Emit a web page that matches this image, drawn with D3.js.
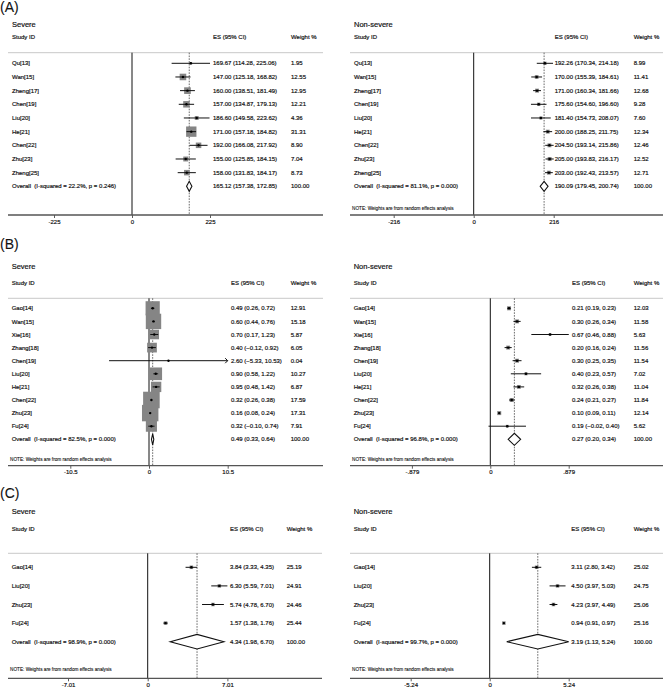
<!DOCTYPE html>
<html>
<head>
<meta charset="utf-8">
<script src="https://cdn.jsdelivr.net/npm/d3@7"></script>
<style>
  body { margin: 0; background: #fff; }
  svg text { font-family: "Liberation Sans", Arial, sans-serif; fill: #111; stroke: #111; stroke-width: 0.18px; white-space: pre; }
</style>
</head>
<body>
<svg id="chart" width="664" height="692"></svg>
<script>
// ---- data ----
var studiesA = ["Qu[13]", "Wan[15]", "Zheng[17]", "Chen[19]", "Liu[20]", "He[21]", "Chen[22]", "Zhu[23]", "Zheng[25]"];
var esA_sev = [169.67, 147.00, 160.00, 157.00, 186.60, 171.00, 192.00, 155.00, 158.00];
var loA_sev = [114.28, 125.18, 138.51, 134.87, 149.58, 157.18, 166.08, 125.85, 131.83];
var hiA_sev = [225.06, 168.82, 181.49, 179.13, 223.62, 184.82, 217.92, 184.15, 184.17];
var wtA_sev = [1.95, 12.55, 12.95, 12.21, 4.36, 31.31, 8.90, 7.04, 8.73];
var allA_sev = [165.12, 157.38, 172.85];
var hetA_sev = ["22.2%", "0.246"];
var ticksA_sev = [-225, 0, 225];

var esA_non = [192.26, 170.00, 171.00, 175.60, 181.40, 200.00, 204.50, 205.00, 203.00];
var loA_non = [170.34, 155.39, 160.34, 154.60, 154.73, 188.25, 193.14, 193.83, 192.43];
var hiA_non = [214.18, 184.61, 181.66, 196.60, 208.07, 211.75, 215.86, 216.17, 213.57];
var wtA_non = [8.99, 11.41, 12.68, 9.28, 7.60, 12.34, 12.46, 12.52, 12.71];
var allA_non = [190.09, 179.45, 200.74];
var hetA_non = ["81.1%", "0.000"];
var ticksA_non = [-216, 0, 216];

var studiesB = ["Gao[14]", "Wan[15]", "Xie[16]", "Zhang[18]", "Chen[19]", "Liu[20]", "He[21]", "Chen[22]", "Zhu[23]", "Fu[24]"];
var esB_sev = [0.49, 0.60, 0.70, 0.40, 2.60, 0.90, 0.95, 0.32, 0.16, 0.32];
var loB_sev = [0.26, 0.44, 0.17, -0.12, -5.33, 0.58, 0.48, 0.26, 0.08, -0.10];
var hiB_sev = [0.72, 0.76, 1.23, 0.92, 10.53, 1.22, 1.42, 0.38, 0.24, 0.74];
var wtB_sev = [12.91, 15.18, 5.87, 6.05, 0.04, 10.27, 6.87, 17.59, 17.31, 7.91];
var allB_sev = [0.49, 0.33, 0.64];
var hetB_sev = ["82.5%", "0.000"];
var ticksB_sev = [-10.5, 0, 10.5];

var esB_non = [0.21, 0.30, 0.67, 0.20, 0.30, 0.40, 0.32, 0.24, 0.10, 0.19];
var loB_non = [0.19, 0.26, 0.46, 0.16, 0.25, 0.23, 0.26, 0.21, 0.09, -0.02];
var hiB_non = [0.23, 0.34, 0.88, 0.24, 0.35, 0.57, 0.38, 0.27, 0.11, 0.40];
var wtB_non = [12.03, 11.58, 5.63, 11.56, 11.54, 7.02, 11.04, 11.84, 12.14, 5.62];
var allB_non = [0.27, 0.20, 0.34];
var hetB_non = ["96.8%", "0.000"];
var ticksB_non = [-0.879, 0, 0.879];
var tickLabB_non = ["-.879", "0", ".879"];

var studiesC = ["Gao[14]", "Liu[20]", "Zhu[23]", "Fu[24]"];
var esC_sev = [3.84, 6.30, 5.74, 1.57];
var loC_sev = [3.33, 5.59, 4.78, 1.38];
var hiC_sev = [4.35, 7.01, 6.70, 1.76];
var wtC_sev = [25.19, 24.91, 24.46, 25.44];
var allC_sev = [4.34, 1.98, 6.70];
var hetC_sev = ["98.9%", "0.000"];
var ticksC_sev = [-7.01, 0, 7.01];

var esC_non = [3.11, 4.50, 4.23, 0.94];
var loC_non = [2.80, 3.97, 3.97, 0.91];
var hiC_non = [3.42, 5.03, 4.49, 0.97];
var wtC_non = [25.02, 24.75, 25.06, 25.16];
var allC_non = [3.19, 1.13, 5.24];
var hetC_non = ["99.7%", "0.000"];
var ticksC_non = [-5.24, 0, 5.24];

var svg = d3.select("#chart");
var fmt = d3.format(".2f");

// panel letters
[["(A)", 7], ["(B)", 244], ["(C)", 493]].forEach(function(l) {
  svg.append("text").attr("x", 0).attr("y", l[1]).attr("dy", "0.35em")
    .style("font-size", "14px").style("stroke-width", "0.1px").text(l[0]);
});

function forest(p) {
  var g = svg.append("g");
  var x = d3.scaleLinear()
    .domain([p.ticks[0], p.ticks[p.ticks.length - 1]])
    .range([p.zero - p.span, p.zero + p.span]);
  var rowY = function(i) { return p.row0 + i * p.step; };
  var n = p.studies.length;
  // CIs are only cut (with an arrow) where the panel asks for it
  var cmax = p.clip ? p.clip : Infinity, cmin = p.clip ? -p.clip : -Infinity;

  // titles
  g.append("text").attr("x", p.tx).attr("y", p.titleY).attr("dy", "0.35em")
    .style("font-size", "7.5px").text(p.title);
  var hdr = [["Study ID", p.tx], ["ES (95% CI)", p.esX], ["Weight %", p.wX]];
  hdr.forEach(function(h) {
    g.append("text").attr("x", h[1]).attr("y", p.hdrY).attr("dy", "0.35em")
      .style("font-size", "6px").text(h[0]);
  });
  g.append("line").attr("x1", p.x0).attr("x2", p.x1).attr("y1", p.lineY).attr("y2", p.lineY)
    .attr("stroke", "#c8c8c8").attr("stroke-width", 1);

  // zero line and overall line
  g.append("line").attr("x1", x(0)).attr("x2", x(0)).attr("y1", p.lineY).attr("y2", p.axisY)
    .attr("stroke", "#111").attr("stroke-width", 1);
  g.append("line").attr("x1", x(p.overall[0])).attr("x2", x(p.overall[0]))
    .attr("y1", p.lineY).attr("y2", p.axisY)
    .attr("stroke", "#444").attr("stroke-width", 0.8).attr("stroke-dasharray", "1.6,1.2");

  // weight boxes
  g.selectAll("rect.box").data(p.wt).enter().append("rect")
    .attr("class", "box")
    .attr("x", function(d, i) { return x(p.es[i]) - p.box * Math.sqrt(d) / 2; })
    .attr("y", function(d, i) { return rowY(i) - p.box * Math.sqrt(d) / 2; })
    .attr("width", function(d) { return p.box * Math.sqrt(d); })
    .attr("height", function(d) { return p.box * Math.sqrt(d); })
    .attr("fill", "#858585");

  // confidence intervals
  for (var i = 0; i < n; i++) {
    var lo = Math.max(p.lo[i], cmin), hi = Math.min(p.hi[i], cmax);
    g.append("line").attr("x1", x(lo)).attr("x2", x(hi)).attr("y1", rowY(i)).attr("y2", rowY(i))
      .attr("stroke", "#111").attr("stroke-width", 1);
    if (p.hi[i] > cmax) {
      g.append("path").attr("d", "M" + (x(hi) - 2.5) + "," + (rowY(i) - 2.5) + "L" + x(hi) + "," + rowY(i) +
        "L" + (x(hi) - 2.5) + "," + (rowY(i) + 2.5)).attr("fill", "none").attr("stroke", "#111");
    }
    if (p.lo[i] < cmin) {
      g.append("path").attr("d", "M" + (x(lo) + 2.5) + "," + (rowY(i) - 2.5) + "L" + x(lo) + "," + rowY(i) +
        "L" + (x(lo) + 2.5) + "," + (rowY(i) + 2.5)).attr("fill", "none").attr("stroke", "#111");
    }
    g.append("circle").attr("cx", x(p.es[i])).attr("cy", rowY(i)).attr("r", 1.2).attr("fill", "#000");

    g.append("text").attr("x", p.tx).attr("y", rowY(i)).attr("dy", "0.35em")
      .style("font-size", "6px").text(p.studies[i]);
    g.append("text").attr("x", p.esX).attr("y", rowY(i)).attr("dy", "0.35em")
      .style("font-size", "6px").text(fmt(p.es[i]) + " (" + fmt(p.lo[i]) + ", " + fmt(p.hi[i]) + ")");
    g.append("text").attr("x", p.wX).attr("y", rowY(i)).attr("dy", "0.35em")
      .style("font-size", "6px").text(fmt(p.wt[i]));
  }

  // overall
  var oy = rowY(n);
  var o = p.overall;
  g.append("path")
    .attr("d", "M" + x(o[1]) + "," + oy + "L" + x(o[0]) + "," + (oy - p.dh) + "L" + x(o[2]) + "," + oy +
      "L" + x(o[0]) + "," + (oy + p.dh) + "Z")
    .attr("fill", "#fff").attr("stroke", "#111").attr("stroke-width", 1.1);
  g.append("text").attr("x", p.tx).attr("y", oy).attr("dy", "0.35em").style("font-size", "6px")
    .text("Overall  (I-squared = " + p.het[0] + ", p = " + p.het[1] + ")");
  g.append("text").attr("x", p.esX).attr("y", oy).attr("dy", "0.35em").style("font-size", "6px")
    .text(fmt(o[0]) + " (" + fmt(o[1]) + ", " + fmt(o[2]) + ")");
  g.append("text").attr("x", p.wX).attr("y", oy).attr("dy", "0.35em").style("font-size", "6px")
    .text("100.00");

  if (p.note) {
    g.append("text").attr("x", p.x0 + 2).attr("y", p.noteY).attr("dy", "0.35em")
      .style("font-size", "4.7px").style("stroke-width", "0.1px")
      .text("NOTE: Weights are from random effects analysis");
  }

  // axis
  var ax = g.append("g").attr("transform", "translate(0," + p.axisY + ")")
    .call(d3.axisBottom(x).tickValues(p.ticks).tickSize(3).tickPadding(1.5)
      .tickFormat(function(d, i) { return p.tickLab ? p.tickLab[i] : String(d); }));
  ax.select(".domain").remove();
  ax.selectAll(".tick line").attr("stroke", "#333").attr("stroke-width", 0.8);
  ax.selectAll(".tick text").style("font-size", "6px").style("font-family", "Liberation Sans, Arial, sans-serif")
    .attr("fill", "#111");
  g.append("line").attr("x1", p.x0).attr("x2", p.x1).attr("y1", p.axisY).attr("y2", p.axisY)
    .attr("stroke", "#555").attr("stroke-width", 1.3);
}

var rowsA = { titleY: 24, hdrY: 37, lineY: 52.7, row0: 63.3, step: 13.67, noteY: 208.3, axisY: 215 };
var rowsB = { titleY: 266.5, hdrY: 282.7, lineY: 298.3, row0: 308.3, step: 13.1, noteY: 459.3, axisY: 465.7 };
var rowsC = { titleY: 511, hdrY: 529, lineY: 553.3, row0: 567.3, step: 18.6, noteY: 669.3, axisY: 678.3 };

function panel(rows, extra) { return Object.assign({}, rows, extra); }

forest(panel(rowsA, { title: "Severe", studies: studiesA, es: esA_sev, lo: loA_sev, hi: hiA_sev, wt: wtA_sev,
  overall: allA_sev, het: hetA_sev, ticks: ticksA_sev, note: false,
  tx: 12, zero: 132, span: 78, esX: 213, wX: 291, x0: 8, x1: 323, box: 1.85, dh: 5 }));
forest(panel(rowsA, { title: "Non-severe", studies: studiesA, es: esA_non, lo: loA_non, hi: hiA_non, wt: wtA_non,
  overall: allA_non, het: hetA_non, ticks: ticksA_non, note: true,
  tx: 354, zero: 473.7, span: 80, esX: 554.7, wX: 633.7, x0: 350, x1: 663, box: 1.1, dh: 5 }));
forest(panel(rowsB, { title: "Severe", studies: studiesB, es: esB_sev, lo: loB_sev, hi: hiB_sev, wt: wtB_sev,
  overall: allB_sev, het: hetB_sev, ticks: ticksB_sev, note: true, clip: 10.5,
  tx: 11.7, zero: 149, span: 78.7, esX: 231, wX: 290.7, x0: 8, x1: 323, box: 3.95, dh: 5.5 }));
forest(panel(rowsB, { title: "Non-severe", studies: studiesB, es: esB_non, lo: loB_non, hi: hiB_non, wt: wtB_non,
  overall: allB_non, het: hetB_non, ticks: ticksB_non, tickLab: tickLabB_non, note: true,
  tx: 353.7, zero: 490.3, span: 78.4, esX: 572, wX: 633.7, x0: 350, x1: 663, box: 1.15, dh: 6 }));
forest(panel(rowsC, { title: "Severe", studies: studiesC, es: esC_sev, lo: loC_sev, hi: hiC_sev, wt: wtC_sev,
  overall: allC_sev, het: hetC_sev, ticks: ticksC_sev, note: true,
  tx: 11.7, zero: 147.7, span: 79.7, esX: 230, wX: 286.7, x0: 8, x1: 322, box: 0.7, dh: 7.3 }));
forest(panel(rowsC, { title: "Non-severe", studies: studiesC, es: esC_non, lo: loC_non, hi: hiC_non, wt: wtC_non,
  overall: allC_non, het: hetC_non, ticks: ticksC_non, note: true,
  tx: 353.7, zero: 489.7, span: 79, esX: 571.3, wX: 633.7, x0: 350, x1: 663, box: 0.7, dh: 7.3 }));
</script>
</body>
</html>
